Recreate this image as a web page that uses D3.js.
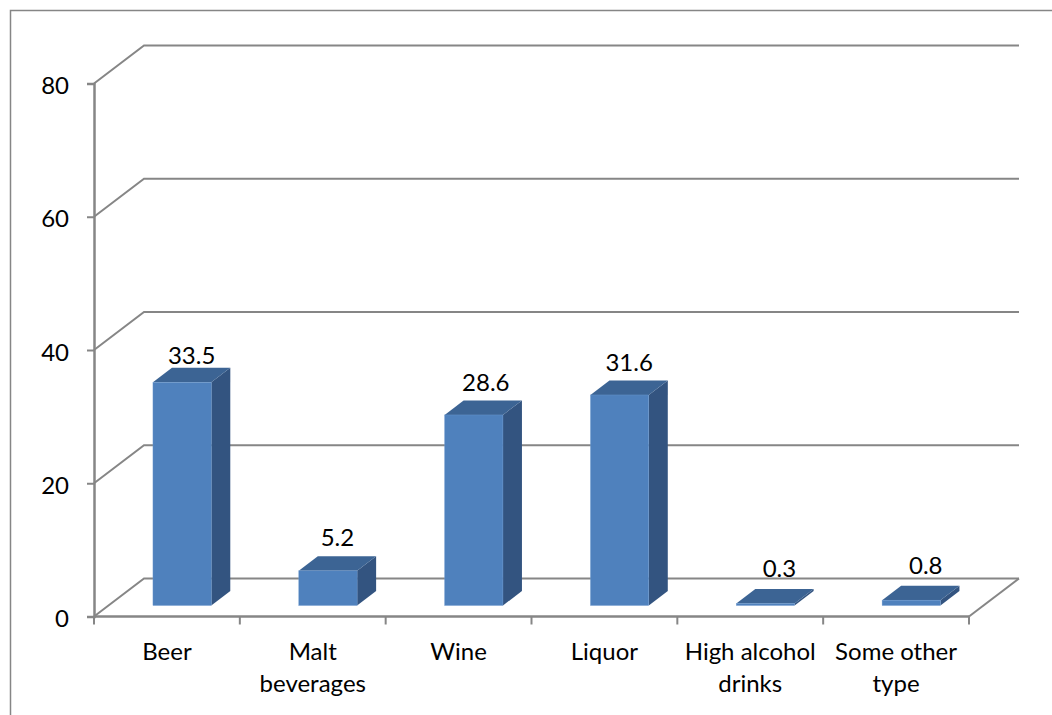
<!DOCTYPE html>
<html>
<head>
<meta charset="utf-8">
<script src="https://cdn.jsdelivr.net/npm/d3@7"></script>
<style>
html,body{margin:0;padding:0;background:#fff;overflow:hidden}
text{font-family:Lato,"Open Sans",sans-serif;fill:#000}
</style>
</head>
<body>
<svg id="c" width="1052" height="715"></svg>
<script>
const categories = ["Beer","Malt beverages","Wine","Liquor","High alcohol drinks","Some other type"];
const values = [33.5,5.2,28.6,31.6,0.3,0.8];
const yTicks = [0,20,40,60,80];

const svg = d3.select("#c");
const grey = "#868686";
const plotL = 94, plotR = 969, plotB = 616.5, plotT = 83.5;
const depthX = 50, depthY = 38;
const barDepthX = 19, barDepthY = 14.5, barOffX = 15.2, barOffY = 11;
const fontSize = 24;
// Per-category nudges of the value label relative to the bar's back edge
const labelLift = [4, 10, 9, 9, 12, 12];
const labelShift = [0, 0, 2.5, 0, 4.5, 5];

const x = d3.scaleBand().domain(categories).range([plotL,plotR]).paddingInner(0).paddingOuter(0);
const y = d3.scaleLinear().domain([0,80]).range([plotB,plotT]);
const barW = x.bandwidth()*0.4;

// frame
svg.append("path").attr("d","M10.5,715V10.5H1052").attr("fill","none").attr("stroke",grey).attr("stroke-width",1.5);

// gridlines
const grid = svg.append("g").attr("fill","none").attr("stroke",grey).attr("stroke-width",2);
grid.selectAll("path").data(yTicks).join("path")
  .attr("d",d=>`M${plotL},${y(d)}L${plotL+depthX},${y(d)-depthY}H${plotR+depthX}`);
// floor right edge
grid.append("path").attr("d",`M${plotR},${plotB}L${plotR+depthX},${plotB-depthY}`);

// axes
const gy = svg.append("g").attr("transform",`translate(${plotL},0)`)
  .call(d3.axisLeft(y).tickValues(yTicks).tickSize(7).tickPadding(18));
const gx = svg.append("g").attr("transform",`translate(0,${plotB})`)
  .call(d3.axisBottom(x).tickSize(0).tickFormat(""));
[gy,gx].forEach(g=>{
  g.selectAll(".domain").attr("stroke",grey).attr("stroke-width",2.5);
  g.selectAll("line").attr("stroke",grey).attr("stroke-width",2);
});
gy.selectAll("text").attr("font-size",fontSize).attr("dy","0.42em").style("font-family","Lato");
gx.selectAll("*:not(.domain)").remove();
gx.select(".domain").attr("d",`M${plotL},0H${plotR}`);
// category boundary ticks
gx.selectAll("line.b").data(d3.range(categories.length+1)).join("line").attr("class","b")
  .attr("x1",i=>plotL+i*x.step()).attr("x2",i=>plotL+i*x.step())
  .attr("y1",0).attr("y2",8).attr("stroke",grey).attr("stroke-width",2);

// category labels
const labels = svg.append("g").attr("font-size",fontSize).attr("text-anchor","middle");
labels.selectAll("text").data(categories).join("text")
  .attr("x",d=>x(d)+x.bandwidth()/2)
  .attr("y",660)
  .each(function(d){
    const t = d3.select(this), cx = x(d)+x.bandwidth()/2;
    const words = d.split(" ");
    let line = [];
    let span = t.append("tspan").attr("x",cx).attr("dy",0);
    words.forEach(w=>{
      line.push(w);
      span.text(line.join(" "));
      if(span.node().getComputedTextLength()>140 && line.length>1){
        line.pop(); span.text(line.join(" "));
        line=[w];
        span = t.append("tspan").attr("x",cx).attr("dy",32).text(w);
      }
    });
  });

// bars
const data = categories.map((c,i)=>({c,v:values[i],i}));
const bars = svg.append("g").selectAll("g").data(data).join("g");
const bx = d => x(d.c)+x.bandwidth()/2-barW/2+barOffX;
const by0 = plotB-barOffY;
const byT = d => by0-(plotB-y(d.v));
bars.append("path").attr("fill","#335480")
  .attr("d",d=>`M${bx(d)+barW},${by0}V${byT(d)}l${barDepthX},${-barDepthY}V${by0-barDepthY}Z`);
bars.append("path").attr("fill","#3c6494")
  .attr("d",d=>`M${bx(d)},${byT(d)}l${barDepthX},${-barDepthY}h${barW}l${-barDepthX},${barDepthY}Z`);
bars.append("rect").attr("fill","#4f81bd").attr("stroke","#6f9bd0").attr("stroke-width",0.4)
  .attr("x",bx).attr("y",byT).attr("width",barW).attr("height",d=>by0-byT(d));
bars.append("text").attr("font-size",fontSize).attr("text-anchor","middle")
  .attr("x",d=>bx(d)+barW/2+barDepthX/2+labelShift[d.i])
  .attr("y",d=>byT(d)-barDepthY-labelLift[d.i])
  .text(d=>d.v.toFixed(1));
</script>
</body>
</html>
